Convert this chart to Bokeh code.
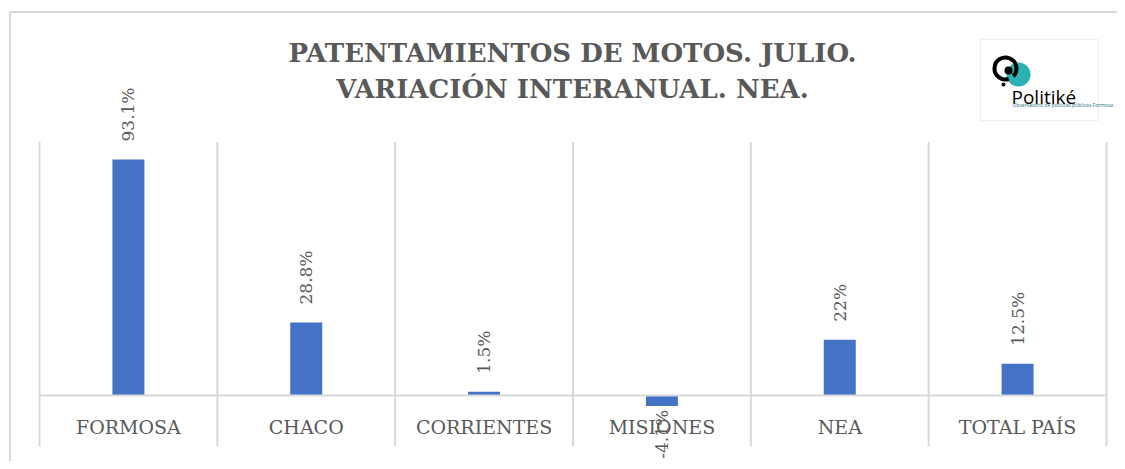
import math
from bokeh.plotting import figure
from bokeh.core.properties import value
from bokeh.embed import file_html
from bokeh.resources import INLINE

# ---------------- data ----------------
categories = ["FORMOSA", "CHACO", "CORRIENTES", "MISIONES", "NEA", "TOTAL PAÍS"]
variation = [93.1, 28.8, 1.5, -4.1, 22.0, 12.5]
value_labels = ["93.1%", "28.8%", "1.5%", "-4.1%", "22%", "12.5%"]
title_lines = ["PATENTAMIENTOS DE MOTOS. JULIO.", "VARIACIÓN INTERANUAL. NEA."]
logo_name = "Politiké"
logo_sub = "Observatorio de políticas públicas Formosa"
y_min, y_max = -20, 100

# ---------------- layout (canvas pixels) ----------------
W, H = 1117, 461
PLOT_LEFT, PLOT_RIGHT = 39, 1106
BASE_Y = 395
PX_PER_UNIT = 2.535
n = len(categories)
cat_w = (PLOT_RIGHT - PLOT_LEFT) / n
x0 = -PLOT_LEFT / cat_w
x1 = n + (W - PLOT_RIGHT) / cat_w
y_top = BASE_Y / PX_PER_UNIT
y_bot = -(H - BASE_Y) / PX_PER_UNIT


def px(x):
    return x0 + x / cat_w


def py(y):
    return (BASE_Y - y) / PX_PER_UNIT


GRID = "#d9d9d9"
TXT = "#595959"
BAR = "#4472C4"
SERIF = value("DejaVu Serif")

p = figure(width=W, height=H, x_range=(x0, x1), y_range=(y_bot, y_top),
           output_backend="svg", toolbar_location=None,
           x_axis_location=None, y_axis_location=None, min_border=0)
p.grid.visible = False
p.outline_line_color = None
p.background_fill_color = "white"
p.border_fill_color = "white"

# outer chart border (left and top)
p.segment(x0=[px(9.5), px(9.5)], y0=[py(11.5), py(11.5)],
          x1=[px(9.5), px(W)], y1=[py(H), py(11.5)],
          line_color=GRID, line_width=2)

# category separator gridlines
bounds = list(range(n + 1))
p.segment(x0=bounds, y0=[y_min] * len(bounds), x1=bounds, y1=[y_max] * len(bounds),
          line_color=GRID, line_width=2)

centers = [i + 0.5 for i in range(n)]
p.vbar(x=centers, top=variation, bottom=0, width=0.18,
       fill_color=BAR, line_color=None)

# horizontal axis line
p.segment(x0=[0], y0=[0], x1=[n], y1=[0], line_color=GRID, line_width=2)

# data labels (rotated)
pos = [i for i, v in enumerate(variation) if v >= 0]
neg = [i for i, v in enumerate(variation) if v < 0]
p.text(x=[centers[i] for i in pos],
       y=[variation[i] + 18 / PX_PER_UNIT for i in pos],
       text=[value_labels[i] for i in pos], angle=math.pi / 2,
       text_align="left", text_baseline="middle",
       text_font=SERIF, text_font_size="17px", text_color=TXT)
p.text(x=[centers[i] for i in neg],
       y=[variation[i] - 4 / PX_PER_UNIT for i in neg],
       text=[value_labels[i] for i in neg], angle=math.pi / 2,
       text_align="right", text_baseline="middle",
       text_font=SERIF, text_font_size="17px", text_color=TXT)

# category labels
p.text(x=centers, y=[-31 / PX_PER_UNIT] * n, text=categories,
       text_align="center", text_baseline="middle",
       text_font=SERIF, text_font_size="19px", text_color=TXT)

# title
p.text(x=[px(572), px(572)], y=[py(52.5), py(88.5)], text=title_lines,
       text_align="center", text_baseline="middle",
       text_font=SERIF, text_font_size="26px", text_font_style="bold",
       text_color=TXT)

# logo
p.quad(left=[px(980)], right=[px(1098)], top=[py(39)], bottom=[py(120)],
       fill_color="white", line_color="#f0f0f0", line_width=1)
p.scatter(x=[px(1018)], y=[py(74)], size=24, marker="circle",
          fill_color="#2bb3b3", line_color=None)
p.arc(x=[px(1005)], y=[py(68)], radius=11 / cat_w,
      start_angle=-math.pi / 4, end_angle=3 * math.pi / 2 + 0.3,
      line_color="black", line_width=4)
p.scatter(x=[px(1008)], y=[py(70)], size=8, marker="circle",
          fill_color="black", line_color=None)
p.scatter(x=[px(1003)], y=[py(84)], size=4, marker="circle",
          fill_color="black", line_color=None)
p.text(x=[px(1011)], y=[py(96)], text=[logo_name],
       text_align="left", text_baseline="alphabetic",
       text_font=value("Open Sans"), text_font_size="19px", text_color="black")
p.text(x=[px(1012)], y=[py(104)], text=[logo_sub],
       text_align="left", text_baseline="alphabetic",
       text_font=value("Open Sans"), text_font_size="5px", text_color="#1f6f80")

open("out.html", "w").write(file_html(p, INLINE))
